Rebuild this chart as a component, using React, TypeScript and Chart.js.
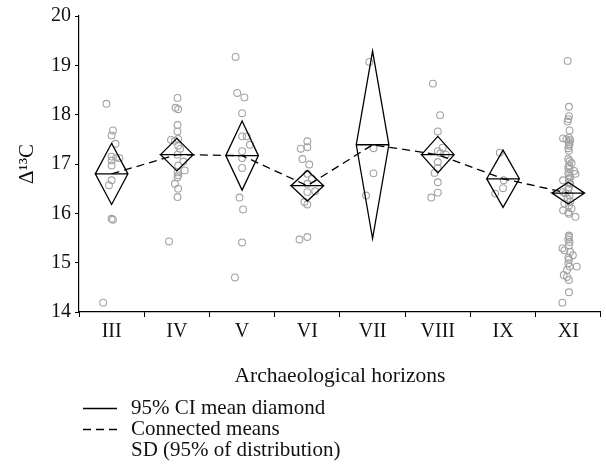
import React, { useEffect, useRef } from 'react';
import { Chart, registerables } from 'chart.js';

Chart.register(...registerables);

// ---- data ----
const horizons = ['III', 'IV', 'V', 'VI', 'VII', 'VIII', 'IX', 'XI'];
const yTickValues = [14, 15, 16, 17, 18, 19, 20];

const meanValues = [16.8, 17.19, 17.17, 16.56, 17.39, 17.19, 16.7, 16.41];
const ciUpper = [17.42, 17.52, 17.87, 16.87, 19.29, 17.56, 17.28, 16.63];
const ciLower = [16.18, 16.86, 16.47, 16.25, 15.49, 16.82, 16.12, 16.19];

// observations (delta 13C) and horizontal jitter (category units)
const obsIII = [18.22, 17.68, 17.58, 17.41, 17.15, 17.13, 17.12, 17.07, 16.97, 16.67, 16.57, 15.89, 15.87, 14.19];
const jitIII = [-0.08, 0.02, 0.0, 0.06, 0.0, 0.07, 0.12, 0.0, 0.0, 0.0, -0.04, 0.0, 0.02, -0.13];

const obsIV = [18.34, 18.14, 18.11, 17.79, 17.66, 17.49, 17.47, 17.51, 17.37, 17.31, 17.19, 17.05, 16.97, 16.87, 16.83, 16.77, 16.73, 16.6, 16.5, 16.33, 15.43];
const jitIV = [0.01, -0.02, 0.02, 0.01, 0.01, -0.09, -0.03, 0.02, 0.02, 0.05, 0.01, 0.1, 0.02, 0.12, 0.01, 0.02, 0.01, -0.03, 0.02, 0.01, -0.12];

const obsV = [19.17, 18.44, 18.35, 18.03, 17.56, 17.56, 17.39, 17.26, 17.12, 16.92, 16.32, 16.08, 15.41, 14.7];
const jitV = [-0.1, -0.075, 0.035, 0.0, 0.0, 0.07, 0.12, 0.0, 0.0, 0.0, -0.04, 0.015, 0.0, -0.11];

const obsVI = [17.46, 17.31, 17.34, 17.1, 16.99, 16.8, 16.7, 16.6, 16.45, 16.43, 16.23, 16.18, 15.47, 15.52];
const jitVI = [0.0, -0.1, 0.0, -0.075, 0.03, 0.0, 0.07, 0.0, 0.12, 0.0, -0.045, 0.0, -0.12, 0.0];

const obsVII = [19.07, 17.32, 16.81, 16.36];
const jitVII = [-0.05, 0.015, 0.015, -0.1];

const obsVIII = [18.63, 17.99, 17.66, 17.33, 17.26, 17.22, 17.19, 17.04, 16.92, 16.82, 16.63, 16.42, 16.32];
const jitVIII = [-0.075, 0.035, 0.0, 0.075, 0.0, 0.04, 0.12, 0.0, 0.0, -0.05, 0.0, 0.0, -0.1];

const obsIX = [17.23, 16.67, 16.51, 16.4];
const jitIX = [-0.05, 0.01, 0.0, -0.12];

const obsXI = [
  19.09, 18.16, 17.97, 17.91, 17.86, 17.68, 17.52, 17.5, 17.53, 17.48, 17.44, 17.4, 17.37, 17.32, 17.27,
  17.1, 17.06, 17.02, 16.97, 16.93, 16.9, 16.86, 16.82, 16.8, 16.77, 16.73, 16.7, 16.67, 16.63, 16.6,
  16.53, 16.48, 16.43, 16.4, 16.36, 16.3, 16.24, 16.2, 16.16, 16.1, 16.06, 16.02, 15.99, 15.93,
  15.55, 15.52, 15.47, 15.42, 15.35, 15.29, 15.25, 15.22, 15.15, 15.1, 15.06, 14.99, 14.92, 14.92,
  14.85, 14.75, 14.71, 14.65, 14.4, 14.19,
];
const jitXI = [
  -0.01, 0.01, 0.01, 0.0, -0.01, 0.02, -0.08, -0.03, 0.01, 0.03, 0.01, 0.02, 0.01, 0.0, 0.01,
  0.0, 0.02, 0.05, 0.01, 0.0, 0.02, 0.09, 0.0, 0.11, 0.01, 0.03, 0.01, -0.08, 0.01, 0.03,
  0.01, 0.0, -0.08, -0.04, 0.02, -0.01, 0.03, -0.06, 0.01, 0.05, -0.08, 0.0, 0.01, 0.11,
  0.01, 0.01, 0.0, 0.02, 0.01, -0.09, -0.06, 0.03, 0.07, 0.0, 0.01, 0.0, 0.02, 0.13,
  -0.02, -0.07, -0.02, 0.01, 0.01, -0.09,
];

const observations = [obsIII, obsIV, obsV, obsVI, obsVII, obsVIII, obsIX, obsXI];
const jitters = [jitIII, jitIV, jitV, jitVI, jitVII, jitVIII, jitIX, jitXI];

const legendLabels = ['95% CI mean diamond', 'Connected means', 'SD (95% of distribution)'];
const legendDashes: (number[] | null)[] = [[], [8, 5], null];

// ---- styles ----
const FONT = '"Liberation Serif", "Times New Roman", serif';
const DIAMOND_HALF = 0.25;
const CANVAS_H = 471;
const LEGEND_SPACE = 79;
const PLOT_BOTTOM = 312;

const legendPlugin = {
  id: 'bottomLegend',
  afterDraw(chart: any) {
    const ctx = chart.ctx;
    ctx.save();
    ctx.font = `21px ${FONT}`;
    ctx.fillStyle = '#111';
    ctx.textBaseline = 'middle';
    ctx.textAlign = 'left';
    legendLabels.forEach((label, i) => {
      const y = 408 + i * 21;
      const dash = legendDashes[i];
      if (dash) {
        ctx.beginPath();
        ctx.setLineDash(dash);
        ctx.lineWidth = 1.3;
        ctx.strokeStyle = '#000';
        ctx.moveTo(83, y + 0.5);
        ctx.lineTo(117, y + 0.5);
        ctx.stroke();
      }
      ctx.fillText(label, 131, y);
    });
    ctx.restore();
  },
};

export default function App() {
  const ref = useRef<HTMLCanvasElement | null>(null);

  useEffect(() => {
    if (!ref.current) return;

    const points: { x: number; y: number }[] = [];
    observations.forEach((vals, i) => {
      vals.forEach((v, k) => points.push({ x: i + 1 + jitters[i][k], y: v }));
    });

    const diamond: { x: number | null; y: number | null }[] = [];
    meanValues.forEach((m, i) => {
      const c = i + 1;
      diamond.push({ x: c - DIAMOND_HALF, y: m });
      diamond.push({ x: c, y: ciUpper[i] });
      diamond.push({ x: c + DIAMOND_HALF, y: m });
      diamond.push({ x: c, y: ciLower[i] });
      diamond.push({ x: c - DIAMOND_HALF, y: m });
      diamond.push({ x: c + DIAMOND_HALF, y: m });
      diamond.push({ x: null, y: null });
    });

    const means = meanValues.map((m, i) => ({ x: i + 1, y: m }));

    const chart = new Chart(ref.current, {
      type: 'scatter',
      data: {
        datasets: [
          {
            label: 'diamonds',
            data: diamond as any,
            showLine: true,
            spanGaps: false,
            borderColor: '#000',
            borderWidth: 1.3,
            pointRadius: 0,
            fill: false,
            order: 1,
          },
          {
            label: 'means',
            data: means,
            showLine: true,
            borderColor: '#000',
            borderWidth: 1.3,
            borderDash: [8, 5],
            pointRadius: 0,
            fill: false,
            order: 2,
          },
          {
            label: 'obs',
            data: points,
            showLine: false,
            pointStyle: 'circle',
            pointRadius: 3.4,
            borderColor: '#a3a3a3',
            borderWidth: 1.1,
            backgroundColor: 'rgba(0,0,0,0)',
            order: 3,
          },
        ],
      },
      options: {
        animation: false,
        responsive: true,
        maintainAspectRatio: false,
        layout: { padding: { left: 0, right: 2, top: 15, bottom: LEGEND_SPACE } },
        plugins: {
          legend: { display: false },
          tooltip: { enabled: false },
        },
        scales: {
          x: {
            type: 'linear',
            min: 0.5,
            max: 8.5,
            afterBuildTicks: (scale: any) => {
              scale.ticks = horizons.map((_, i) => ({ value: i + 1 }));
            },
            afterFit: (scale: any) => {
              scale.height = CANVAS_H - LEGEND_SPACE - PLOT_BOTTOM;
            },
            ticks: {
              autoSkip: false,
              maxRotation: 0,
              padding: 3,
              color: '#111',
              font: { family: FONT, size: 20 },
              callback: (_v: any, index: number) => horizons[index],
            },
            grid: {
              display: true,
              drawOnChartArea: false,
              drawTicks: true,
              tickLength: 5,
              offset: true,
              color: '#000',
              lineWidth: 1,
            },
            border: { display: true, color: '#000', width: 1.2 },
            title: {
              display: true,
              text: 'Archaeological horizons',
              color: '#111',
              font: { family: FONT, size: 21.5 },
              padding: { top: 0, bottom: 3 },
            },
          },
          y: {
            type: 'linear',
            min: 14,
            max: 20,
            afterBuildTicks: (scale: any) => {
              scale.ticks = yTickValues.map((v) => ({ value: v }));
            },
            afterFit: (scale: any) => {
              scale.width = 79;
            },
            ticks: {
              padding: 4,
              color: '#111',
              font: { family: FONT, size: 20 },
            },
            grid: {
              display: true,
              drawOnChartArea: false,
              drawTicks: true,
              tickLength: 4,
              color: '#000',
              lineWidth: 1,
            },
            border: { display: true, color: '#000', width: 1.2 },
            title: {
              display: true,
              text: 'Δ¹³C',
              color: '#111',
              font: { family: FONT, size: 21 },
              padding: { top: 15, bottom: 0 },
            },
          },
        },
      },
      plugins: [legendPlugin],
    });

    return () => chart.destroy();
  }, []);

  return (
    <div style={{ position: 'absolute', left: 0, top: 0, width: 606, height: CANVAS_H, background: '#fff' }}>
      <canvas ref={ref} />
    </div>
  );
}
